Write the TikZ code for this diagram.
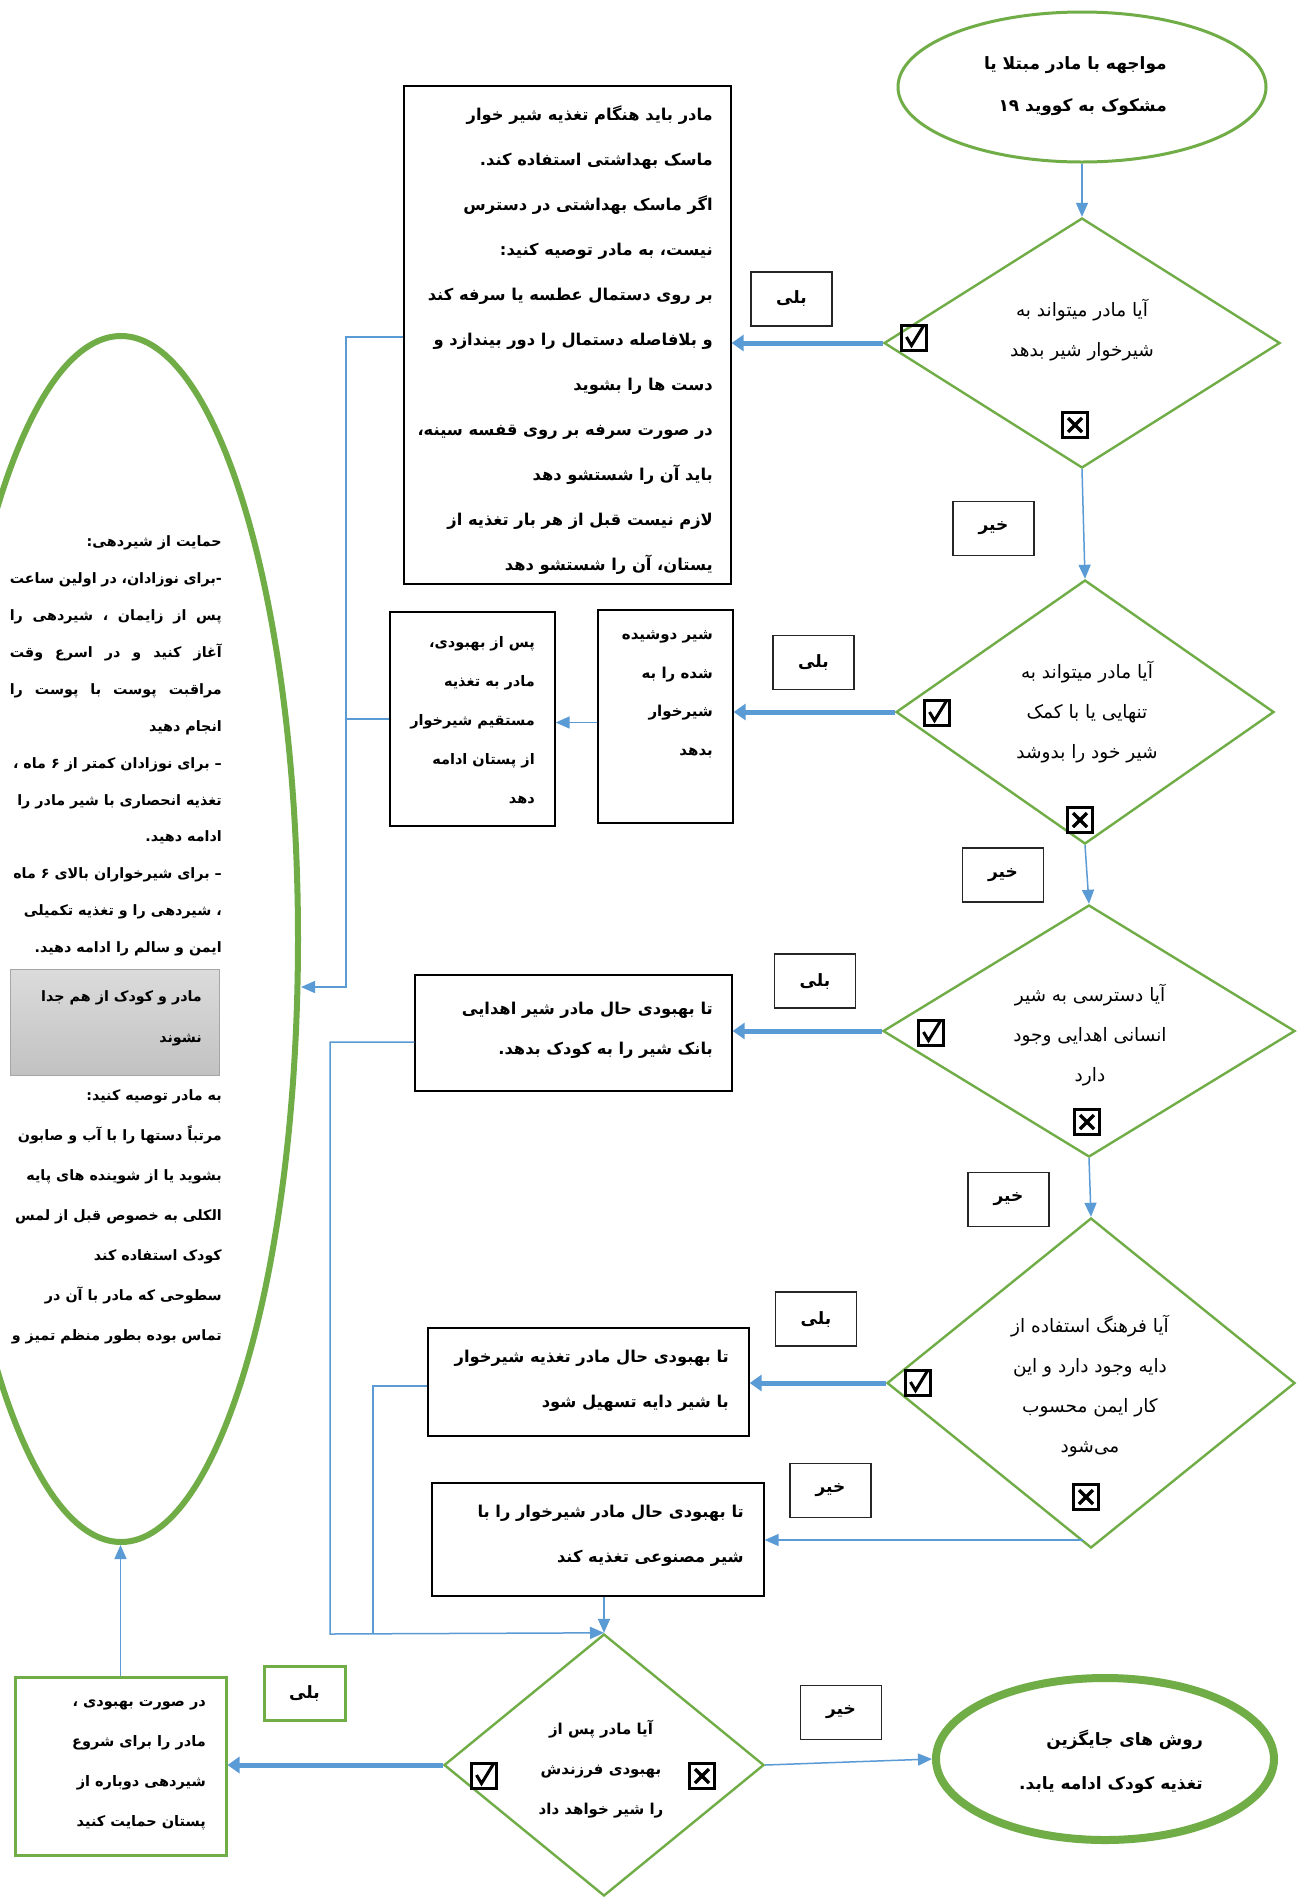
\documentclass[tikz,border=0pt]{standalone}
\usepackage{fontspec}
\usetikzlibrary{shapes.geometric,arrows.meta,calc}
\TeXXeTstate=1
\newfontfamily\arfont[Script=Arabic]{DejaVu Sans}
\newcommand\rtl[1]{\beginR #1\endR}
\newcommand\jst[1]{\makebox[212pt][s]{#1}}
\definecolor{grn}{RGB}{112,173,71}
\definecolor{blu}{RGB}{91,155,213}
\newcommand\chkat[2]{\node[cbox] (#1) at (#2) {};
  \draw[line width=3pt] ([shift={(-7.5pt,1pt)}]#1.center) -- ([shift={(-2.5pt,-7.5pt)}]#1.center) -- ([shift={(10pt,13pt)}]#1.center);}
\newcommand\crsat[2]{\node[cbox] (#1) at (#2) {};
  \draw[line width=3.4pt] ([shift={(-7pt,-7pt)}]#1.center) -- ([shift={(7pt,7pt)}]#1.center) ([shift={(-7pt,7pt)}]#1.center) -- ([shift={(7pt,-7pt)}]#1.center);}
\begin{document}
\begin{tikzpicture}[x=1pt,y=-1pt,
  box/.style={draw=black, line width=1.3pt, inner sep=0pt},
  lbl/.style={draw=black!85, line width=1.3pt, minimum width=81pt, minimum height=54pt, inner sep=0pt, font=\arfont\bfseries\fontsize{17}{20}\selectfont},
  dia/.style={diamond, draw=grn, line width=2.4pt, inner sep=0pt},
  txt/.style={inner sep=0pt, align=right, anchor=east, font=\arfont\bfseries\fontsize{16.3}{45}\selectfont},
  ctxt/.style={inner sep=0pt, align=center, font=\arfont\fontsize{18.5}{40}\selectfont},
  cbox/.style={draw=black, line width=2.6pt, minimum size=25pt, inner sep=0pt},
  thin/.style={draw=blu, line width=1.5pt},
  thinar/.style={thin, -{Triangle[length=14pt,width=12pt]}},
  thickar/.style={draw=blu, line width=5pt, -{Triangle[length=12pt,width=16pt]}}
]
\useasboundingbox (0,0) rectangle (1303,1899);
\fill[white] (0,0) rectangle (1303,1899);
\clip (0,0) rectangle (1303,1899);

% shapes
\node[ellipse, draw=grn, line width=3pt, minimum width=368pt, minimum height=150pt, inner sep=0pt] (e1) at (1082,87) {};
\node[dia, minimum width=396pt, minimum height=250pt] (d1) at (1082,343) {};
\node[dia, minimum width=378pt, minimum height=264pt] (d2) at (1085,712) {};
\node[dia, minimum width=412pt, minimum height=252pt] (d3) at (1089,1031) {};
\node[dia, minimum width=408pt, minimum height=330pt] (d4) at (1091,1383) {};
\node[dia, minimum width=320pt, minimum height=262pt] (d5) at (604,1765) {};
\node[box, minimum width=327pt, minimum height=498pt] (b1) at (567.5,335) {};
\node[box, minimum width=135pt, minimum height=213pt] (b2a) at (665.5,716.5) {};
\node[box, minimum width=165pt, minimum height=214pt] (b2b) at (472.5,719) {};
\node[box, minimum width=317pt, minimum height=116pt] (b3) at (573.5,1033) {};
\node[box, minimum width=321pt, minimum height=108pt] (b4a) at (588.5,1382) {};
\node[box, minimum width=332pt, minimum height=113pt] (b4b) at (598,1539.5) {};
\node[draw=grn, line width=3pt, minimum width=211pt, minimum height=178pt, inner sep=0pt] (b5) at (120.5,1766) {};
\node[ellipse, draw=grn, line width=6pt, minimum width=354pt, minimum height=1206pt, inner sep=0pt] (le) at (121,939) {};
\node[ellipse, draw=grn, line width=8pt, minimum width=338pt, minimum height=162pt, inner sep=0pt] (re) at (1105,1759) {};
\node[draw=gray!70, line width=1pt, top color=gray!28, bottom color=gray!48, minimum width=209pt, minimum height=106pt, inner sep=0pt] (gb) at (114.5,1022) {};

% labels
\node[lbl] (y1) at (791.5,299) {\rtl{بلی}};
\node[lbl] (n1) at (993.5,528.5) {\rtl{خیر}};
\node[lbl] (y2) at (813.5,662.5) {\rtl{بلی}};
\node[lbl] (n2) at (1003,875) {\rtl{خیر}};
\node[lbl] (y3) at (815,981) {\rtl{بلی}};
\node[lbl] (n3) at (1008.5,1199.5) {\rtl{خیر}};
\node[lbl] (y4) at (816,1319) {\rtl{بلی}};
\node[lbl] (n4) at (830.5,1490.5) {\rtl{خیر}};
\node[lbl, draw=grn, line width=3pt] (y5) at (304.5,1693) {\rtl{بلی}};
\node[lbl] (n5) at (841,1712.5) {\rtl{خیر}};

% check / cross boxes
\chkat{c1}{914,338}
\crsat{x1}{1075,425}
\chkat{c2}{937,713}
\crsat{x2}{1080,820}
\chkat{c3}{931,1033}
\crsat{x3}{1087,1122}
\chkat{c4}{918,1383}
\crsat{x4}{1086,1497}
\chkat{c5}{484,1776}
\crsat{x5}{702,1776}

% texts
\node[txt, font=\arfont\bfseries\fontsize{17}{42}\selectfont] (e1t) at (1167,86) {\rtl{مواجهه با مادر مبتلا  یا}\\\rtl{مشکوک به کووید ۱۹}};
\node[ctxt] (d1t) at (1082,330) {\rtl{آیا مادر میتواند به}\\\rtl{شیرخوار شیر بدهد}};
\node[ctxt] (d2t) at (1087,712) {\rtl{آیا مادر میتواند به}\\\rtl{تنهایی یا با کمک}\\\rtl{شیر خود را بدوشد}};
\node[ctxt] (d3t) at (1090,1035) {\rtl{آیا دسترسی به شیر}\\\rtl{انسانی اهدایی وجود}\\\rtl{دارد}};
\node[ctxt] (d4t) at (1090,1386.5) {\rtl{آیا فرهنگ استفاده از}\\\rtl{دایه وجود دارد و این}\\\rtl{کار ایمن محسوب}\\\rtl{می‌شود}};
\node[ctxt, font=\arfont\bfseries\fontsize{15}{40}\selectfont] (d5t) at (601,1769) {\rtl{آیا مادر پس از}\\\rtl{بهبودی فرزندش}\\\rtl{را شیر خواهد داد}};

\node[txt] (b1t) at (713,340.5) {\rtl{مادر باید هنگام تغذیه شیر خوار}\\\rtl{ماسک بهداشتی استفاده کند.}\\\rtl{اگر ماسک بهداشتی در دسترس}\\\rtl{نیست، به مادر توصیه کنید:}\\\rtl{بر روی دستمال عطسه یا سرفه کند}\\\rtl{و بلافاصله دستمال  را دور بیندازد و}\\\rtl{دست ها را بشوید}\\\rtl{در صورت سرفه بر روی قفسه سینه،}\\\rtl{باید آن را شستشو دهد}\\\rtl{لازم نیست قبل از هر بار تغذیه از}\\\rtl{یستان، آن را شستشو دهد}};
\node[txt, font=\arfont\bfseries\fontsize{15}{38.5}\selectfont] (b2at) at (713,694.5) {\rtl{شیر دوشیده}\\\rtl{شده را به}\\\rtl{شیرخوار}\\\rtl{بدهد}};
\node[txt, font=\arfont\bfseries\fontsize{14.5}{39}\selectfont] (b2bt) at (535,720) {\rtl{پس از بهبودی،}\\\rtl{مادر به تغذیه}\\\rtl{مستقیم شیرخوار}\\\rtl{از پستان ادامه}\\\rtl{دهد}};
\node[txt, font=\arfont\bfseries\fontsize{16.3}{40}\selectfont] (b3t) at (713,1030) {\rtl{تا بهبودی حال مادر شیر اهدایی}\\\rtl{بانک شیر را به کودک بدهد.}};
\node[txt, font=\arfont\bfseries\fontsize{16.3}{45}\selectfont] (b4at) at (729,1380.5) {\rtl{تا بهبودی حال مادر تغذیه شیرخوار}\\\rtl{با شیر دایه تسهیل شود}};
\node[txt, font=\arfont\bfseries\fontsize{16.3}{45}\selectfont] (b4bt) at (744,1535.5) {\rtl{تا بهبودی حال مادر شیرخوار را با}\\\rtl{شیر مصنوعی تغذیه کند}};
\node[txt, font=\arfont\bfseries\fontsize{14.5}{40}\selectfont] (b5t) at (206,1765) {\rtl{در صورت بهبودی ،}\\\rtl{مادر را برای شروع}\\\rtl{شیردهی دوباره از}\\\rtl{پستان حمایت کنید}};
\node[txt, font=\arfont\bfseries\fontsize{17}{44}\selectfont] (ret) at (1203,1762) {\rtl{روش های جایگزین}\\\rtl{تغذیه کودک ادامه یابد.}};

\node[txt, font=\arfont\bfseries\fontsize{14.3}{36.9}\selectfont] (lt1) at (222,746) {\rtl{حمایت از شیردهی:}\\\jst{\rtl{-برای نوزادان، در اولین ساعت}}\\\jst{\rtl{پس از زایمان ، شیردهی را}}\\\jst{\rtl{آغاز کنید و در اسرع وقت}}\\\jst{\rtl{مراقبت پوست با پوست را}}\\\rtl{انجام دهید}\\\rtl{– برای نوزادان کمتر از ۶ ماه ،}\\\rtl{تغذیه انحصاری با شیر مادر را}\\\rtl{ادامه دهید.}\\\rtl{– برای شیرخواران بالای ۶ ماه}\\\rtl{، شیردهی را و تغذیه تکمیلی}\\\rtl{ایمن و سالم را  ادامه دهید.}};
\node[txt, font=\arfont\bfseries\fontsize{14.3}{41}\selectfont] (gbt) at (202,1018.5) {\rtl{مادر و کودک از هم جدا}\\\rtl{نشوند}};
\node[txt, font=\arfont\bfseries\fontsize{14.3}{40}\selectfont] (lt2) at (222,1217) {\rtl{به مادر توصیه کنید:}\\\rtl{مرتباً دستها را با آب و صابون}\\\rtl{بشوید یا از شوینده های پایه}\\\rtl{الکلی به خصوص قبل از لمس}\\\rtl{کودک استفاده کند}\\\rtl{سطوحی که مادر با آن در}\\\rtl{تماس بوده بطور منظم تمیز و}};

% connectors
\draw[thinar] (e1.south) -- (d1.north);
\draw[thickar] (d1.west) -- (d1.west -| b1.east);
\draw[thinar] (d1.south) -- (d2.north);
\draw[thickar] (d2.west) -- (d2.west -| b2a.east);
\draw[thinar] ([yshift=-6pt]b2a.west) -- ([yshift=-6pt]b2a.west -| b2b.east);
\coordinate (j1) at (346,987);
\draw[thinar] ([yshift=-2pt]b1.west) -| (j1) -- (j1 -| le.east);
\draw[thin] (b2b.west) -- (b2b.west -| j1);
\draw[thinar] (d2.south) -- (d3.north);
\draw[thickar] (d3.west) -- (d3.west -| b3.east);
\coordinate (j2) at (330,1634);
\draw[thinar] ([yshift=-9pt]b3.west) -| (j2) -- (d5.north);
\coordinate (j3) at (373,1634);
\draw[thin] ([yshift=-4pt]b4a.west) -| (j3);
\draw[thinar] (d3.south) -- (d4.north);
\draw[thickar] (d4.west) -- (d4.west -| b4a.east);
\coordinate (d4s) at (1083,1540);
\draw[thinar] (d4s) -- (d4s -| b4b.east);
\draw[thinar] (b4b.south -| d5.north) -- (d5.north);
\draw[thickar] (d5.west) -- (d5.west -| b5.east);
\draw[thinar] (b5.north) -- (b5.north |- le.south);
\draw[thinar] (d5.east) -- (re.west);
\end{tikzpicture}
\end{document}
